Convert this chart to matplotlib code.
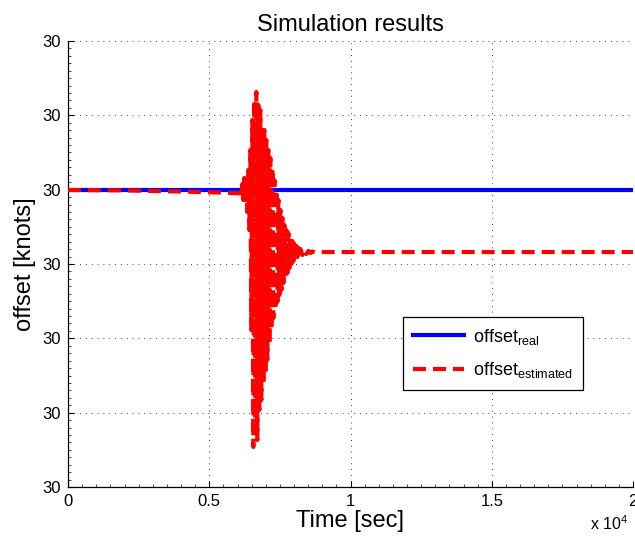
import matplotlib
matplotlib.use("Agg")
import matplotlib.pyplot as plt
from matplotlib.ticker import AutoMinorLocator, FuncFormatter

plt.rcParams["font.family"] = ["Liberation Sans", "DejaVu Sans"]
plt.rcParams["mathtext.fontset"] = "custom"
plt.rcParams["mathtext.rm"] = "Liberation Sans"
plt.rcParams["mathtext.it"] = "Liberation Sans"

# Offsets in knots (base value + deviation in thousandths of a knot)
base_knots = 30.0

# True offset: constant
real_t = [0, 20000]
real_dev = [1.0, 1.0]

# Estimated offset: slow drift, then a burst of oscillation that settles
est_t = [0, 2000, 4000, 5500, 6100,
         6135, 6170, 6205, 6241, 6276, 6312, 6347, 6383, 6418, 6454,
         6489, 6525, 6560, 6596, 6631, 6666, 6702, 6737, 6773, 6808,
         6844, 6879, 6915, 6950, 6986, 7021, 7056, 7092, 7127, 7163,
         7198, 7234, 7269, 7305, 7340, 7375, 7411, 7446, 7482, 7517,
         7553, 7588, 7624, 7659, 7695, 7730, 7765, 7801, 7836, 7872,
         7907, 7943, 7978, 8014, 8049, 8084, 8120, 8155, 8191, 8226,
         8297, 8369, 8439, 8510, 8581, 8652, 8759, 8936, 20000]
est_dev = [0.995, 0.99, 0.975, 0.96, 0.95,
           0.888, 1.076, 0.861, 1.157, 0.794, 1.103, 0.700, 1.265, 0.457, 1.534,
           -0.888, 1.937, -2.462, 2.206, -2.099, 2.314, -2.368, 2.139, -1.964, 2.072,
           -1.830, 1.870, -1.628, 1.803, -1.493, 1.668, -1.292, 1.534, -1.090, 1.426,
           -0.888, 1.292, -0.727, 1.130, -0.619, 0.996, -0.511, 0.861, -0.417, 0.727,
           -0.350, 0.619, -0.256, 0.525, -0.188, 0.457, -0.121, 0.417, -0.054, 0.363,
           0.000, 0.309, 0.040, 0.269, 0.067, 0.242, 0.094, 0.215, 0.108, 0.202,
           0.121, 0.188, 0.135, 0.175, 0.148, 0.168, 0.155, 0.161, 0.161]

y_ticks_dev = [-3, -2, -1, 0, 1, 2, 3]
x_ticks = [0, 5000, 10000, 15000, 20000]
x_tick_labels = ["0", "0.5", "1", "1.5", "2"]

real_y = [base_knots + d * 1e-3 for d in real_dev]
est_y = [base_knots + d * 1e-3 for d in est_dev]
y_ticks = [base_knots + d * 1e-3 for d in y_ticks_dev]

fig = plt.figure(figsize=(6.35, 5.39), dpi=100)
ax = fig.add_axes([68 / 635, 52 / 539, 565 / 635, 446 / 539])

ax.plot(real_t, real_y, color="#0000ff", lw=3.0, label=r"offset$_{\mathrm{real}}$", zorder=3)
ax.plot(est_t, est_y, color="#ff0000", lw=3.0, linestyle=(0, (3.1, 1.7)),
        label=r"offset$_{\mathrm{estimated}}$", zorder=4)

ax.set_xlim(0, 20000)
ax.set_ylim(y_ticks[0], y_ticks[-1])
ax.set_xticks(x_ticks)
ax.set_xticklabels(x_tick_labels)
ax.set_yticks(y_ticks)
ax.yaxis.set_major_formatter(FuncFormatter(lambda v, p: "%.0f" % v))
ax.xaxis.set_minor_locator(AutoMinorLocator(10))
ax.yaxis.set_minor_locator(AutoMinorLocator(10))

for side in ("top", "right"):
    ax.spines[side].set_visible(False)
for side in ("left", "bottom"):
    ax.spines[side].set_linewidth(0.9)

ax.tick_params(which="major", direction="in", length=4, width=0.8, labelsize=12, pad=5)
ax.tick_params(which="minor", direction="in", length=2, width=0.5)

ax.grid(True, which="major", color="black", linestyle=(0, (1, 6)), linewidth=0.6)

ax.set_title("Simulation results", fontsize=17, pad=7)
ax.set_xlabel("Time [sec]", fontsize=17, labelpad=1)
ax.set_ylabel("offset [knots]", fontsize=17, labelpad=5)
fig.text(590 / 635, 1 - 524 / 539, r"x 10$^{4}$", fontsize=11.5, ha="left", va="center")

leg = ax.legend(loc="upper left", bbox_to_anchor=(0.593, 0.382), fontsize=13,
                frameon=True, fancybox=False, edgecolor="black", framealpha=1,
                handlelength=2.85, handletextpad=0.45, borderpad=0.55,
                labelspacing=0.75, borderaxespad=0)
leg.get_frame().set_linewidth(0.9)

fig.savefig("out.png", dpi=100)
